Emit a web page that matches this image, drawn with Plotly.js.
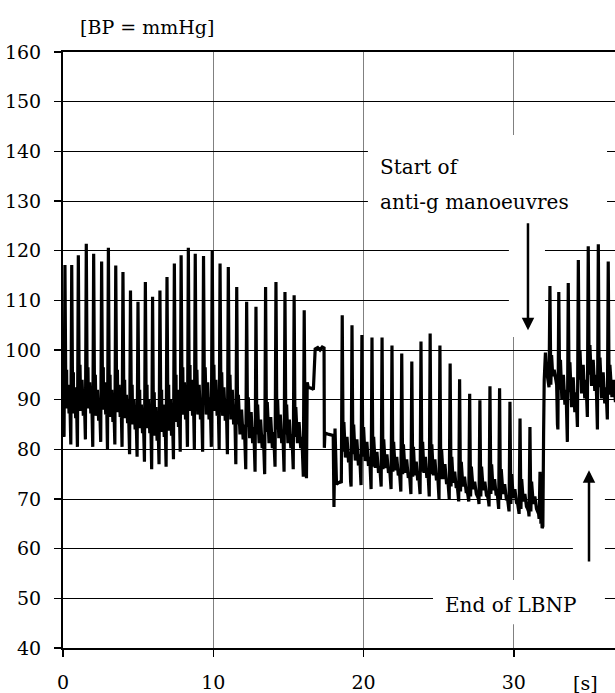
<!DOCTYPE html>
<html>
<head>
<meta charset="utf-8">
<script src="https://cdn.plot.ly/plotly-3.0.1.min.js"></script>
<style>html,body{margin:0;padding:0;background:#fff;}#chart{width:615px;height:693px;}</style>
</head>
<body>
<div id="chart"></div>
<script>
// ---- Data (time in s, blood pressure in mmHg) ----
// Segment A: before the transient (peak times, systolic, diastolic onset, secondary wave)
var peakA_t = [0.13,0.58,1.02,1.55,2.04,2.57,3.02,3.51,3.99,4.49,4.99,5.48,5.96,6.45,6.92,7.41,7.86,8.34,8.80,9.35,9.93,10.45,11.00,11.56,12.22,12.84,13.48,14.17,14.77,15.38,16.05];
var sysA    = [117.1,117.1,119.1,121.4,119.4,117.8,120.6,117.0,115.7,112.0,109.7,113.7,110.7,112.0,114.7,117.4,119.1,120.6,119.4,118.9,120.1,117.4,116.7,112.7,109.7,108.7,112.7,113.7,111.7,111.0,108.0];
var diaA    = [82.5,81,80.5,82,80.5,81.5,80,81,80.5,79,78.5,77.5,76,77,76.5,78,79.5,80.5,80,79.5,80.5,80,79,77,76,75.5,75,76.5,75.5,76,74.5];
var dicA    = [96,95.5,97,96.5,95,96.5,95,96,94,93,92,93,91.5,92,93,95,96.5,97,96,96.5,97,95.5,95,91,90.5,89,89.5,90,89,88.5,88];

// Transient between the segments
var transT = [16.20,16.25,16.32,16.60,16.66,16.78,16.95,17.10,17.25,17.37,17.39,17.43,17.70,17.98,18.03,18.10,18.20,18.45];
var transV = [74.2,93.5,92.5,92.2,92.0,100.2,100.5,100.0,100.6,100.4,80.3,83.3,83.0,82.8,68.4,84.2,73.0,73.5];

// Segment B: during LBNP
var peakB_t = [18.58,19.23,19.89,20.56,21.23,21.89,22.54,23.21,23.82,24.43,25.08,25.76,26.39,27.06,27.74,28.41,29.05,29.74,30.41,31.07,31.74];
var sysB    = [107.0,105.0,103.0,102.5,102.5,100.9,99.3,97.7,101.7,103.3,100.9,97.3,94.1,91.2,89.9,92.7,92.3,89.6,86.2,84.5,75.5];
var diaB    = [73.2,72.5,72.8,72,72.5,72,71.5,71,71,70.5,70,70,69.5,69.5,69,68.5,68,67.5,67,66.5,66];
var dicB    = [85.5,85,84.5,82.5,82,81.5,81,80.5,81.5,81,80,78.5,77.5,76.5,76.5,77,76,75,74,73.5,71];

// Rise at the end of LBNP
var riseT = [31.88,31.93,31.95,31.98,32.02,32.10,32.17,32.25];
var riseV = [64.1,64.5,83.0,83.5,94.0,99.5,96.0,94.5];

// Segment C: after LBNP
var peakC_t = [32.40,32.99,33.62,34.29,34.95,35.62,36.28];
var sysC    = [112.9,111.7,113.5,118.1,120.9,121.3,117.8];
var diaC    = [92.5,84,81.5,84.5,86.5,84,86];
var dicC    = [99,98,97.5,100,101,98.5,97];

var yTicks = [40,50,60,70,80,90,100,110,120,130,140,150,160];
var xTicks = [0,10,20,30];

// ---- Build the pressure trace ----
var X = [0], Y = [90];
function addBeats(pt, sys, dia, dic, endT, endV) {
  var n = pt.length;
  for (var i = 0; i < n; i++) {
    var t0 = pt[i] - 0.06;
    var t1 = (i < n - 1) ? pt[i + 1] - 0.06 : endT;
    var nextDia = (i < n - 1) ? dia[i + 1] : endV;
    var P = t1 - t0;
    var pts = [
      [t0, dia[i]],
      [pt[i], sys[i]],
      [t0 + 0.12, dic[i] - 6],
      [t0 + 0.17, dic[i]],
      [t0 + 0.42 * P, (dia[i] + dic[i]) / 2 - 1],
      [t0 + 0.58 * P, dic[i] - 3],
      [t0 + 0.74 * P, (dia[i] + dic[i]) / 2 - 2],
      [t0 + 0.86 * P, dic[i] - 6],
      [t0 + 0.95 * P, nextDia + 1]
    ];
    var last = -1;
    for (var k = 0; k < pts.length; k++) {
      if (pts[k][0] > last && pts[k][0] < t1 - 0.005) {
        X.push(pts[k][0]); Y.push(pts[k][1]); last = pts[k][0];
      }
    }
  }
}
function addPts(tt, vv) { for (var i = 0; i < tt.length; i++) { X.push(tt[i]); Y.push(vv[i]); } }

addBeats(peakA_t, sysA, diaA, dicA, transT[0], transV[0]);
addPts(transT, transV);
addBeats(peakB_t, sysB, diaB, dicB, riseT[0], riseV[0]);
addPts(riseT, riseV);
addBeats(peakC_t, sysC, diaC, dicC, 36.95, 86);
X.push(36.95); Y.push(86);

var FONT = 'DejaVu Serif';
var tickFont = {family: FONT, size: 19, color: '#000'};
var annFont = {family: FONT, size: 20, color: '#000'};

var trace = {
  x: X, y: Y, type: 'scatter', mode: 'lines',
  line: {color: '#000', width: 3.2}, hoverinfo: 'skip', showlegend: false
};

var layout = {
  width: 615, height: 693,
  margin: {l: 63, r: 0, t: 52, b: 45},
  paper_bgcolor: '#fff', plot_bgcolor: '#fff',
  showlegend: false,
  font: {family: FONT, color: '#000'},
  xaxis: {
    range: [0, 36.73], tickvals: xTicks, ticktext: xTicks.map(String),
    ticks: 'outside', ticklen: 7, tickwidth: 1.5, tickcolor: '#000',
    showgrid: true, gridcolor: '#808080', gridwidth: 1,
    showline: true, linecolor: '#000', linewidth: 2, mirror: true,
    zeroline: false, tickfont: tickFont, ticklabelstandoff: 9, fixedrange: true
  },
  yaxis: {
    range: [40, 160], tickvals: yTicks, ticktext: yTicks.map(String),
    ticks: 'outside', ticklen: 7, tickwidth: 1.5, tickcolor: '#000',
    showgrid: true, gridcolor: '#000', gridwidth: 1,
    showline: true, linecolor: '#000', linewidth: 2,
    zeroline: false, tickfont: tickFont, ticklabelstandoff: 9, fixedrange: true
  },
  shapes: [
    {type: 'rect', xref: 'x', yref: 'y', x0: 20.29, x1: 36.2, y0: 127.2, y1: 143.3, fillcolor: '#fff', line: {width: 0}, layer: 'above'},
    {type: 'rect', xref: 'x', yref: 'y', x0: 29.67, x1: 32.07, y0: 102.6, y1: 127.3, fillcolor: '#fff', line: {width: 0}, layer: 'above'},
    {type: 'rect', xref: 'x', yref: 'y', x0: 24.62, x1: 36.06, y0: 44.8, y1: 53.7, fillcolor: '#fff', line: {width: 0}, layer: 'above'},
    {type: 'rect', xref: 'x', yref: 'y', x0: 33.93, x1: 36.06, y0: 53.6, y1: 77.5, fillcolor: '#fff', line: {width: 0}, layer: 'above'}
  ],
  annotations: [
    {text: '[BP = mmHg]', xref: 'paper', yref: 'paper', x: 0.027, y: 1.042, xanchor: 'left', yanchor: 'middle', showarrow: false, font: {family: FONT, size: 19, color: '#000'}},
    {text: 'Start of', xref: 'x', yref: 'y', x: 20.95, y: 136.8, xanchor: 'left', yanchor: 'middle', showarrow: false, font: annFont},
    {text: 'anti-g manoeuvres', xref: 'x', yref: 'y', x: 20.95, y: 129.8, xanchor: 'left', yanchor: 'middle', showarrow: false, font: annFont},
    {text: 'End of LBNP', xref: 'x', yref: 'y', x: 29.75, y: 48.7, xanchor: 'center', yanchor: 'middle', showarrow: false, font: annFont},
    {text: '[s]', xref: 'paper', yref: 'paper', x: 0.9457, y: -0.0587, xanchor: 'center', yanchor: 'middle', showarrow: false, font: tickFont},
    {text: '', xref: 'x', yref: 'y', x: 30.94, y: 104.0, axref: 'x', ayref: 'y', ax: 30.94, ay: 125.8, showarrow: true, arrowhead: 2, arrowsize: 1, arrowwidth: 2.5, arrowcolor: '#000', standoff: 0},
    {text: '', xref: 'x', yref: 'y', x: 35.0, y: 75.8, axref: 'x', ayref: 'y', ax: 35.0, ay: 57.1, showarrow: true, arrowhead: 2, arrowsize: 1, arrowwidth: 2.5, arrowcolor: '#000', standoff: 0}
  ]
};

Plotly.newPlot('chart', [trace], layout, {staticPlot: true, displayModeBar: false});
</script>
</body>
</html>
